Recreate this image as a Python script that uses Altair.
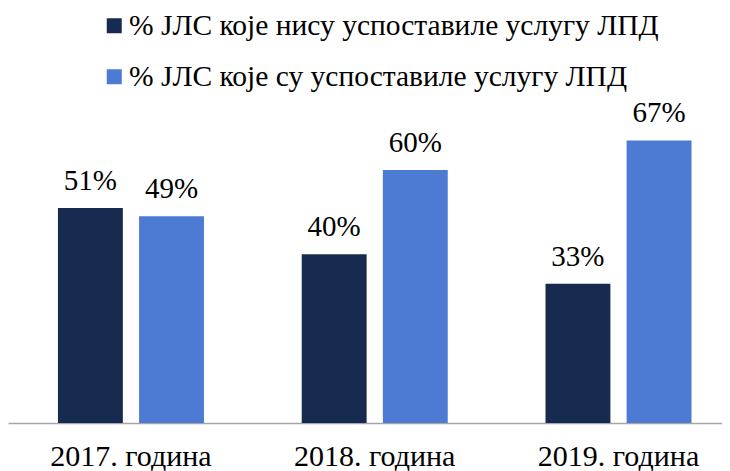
import altair as alt
import pandas as pd

years = ["2017. година", "2018. година", "2019. година"]
series = [
    "% ЈЛС које нису успоставиле услугу ЛПД",
    "% ЈЛС које су успоставиле услугу ЛПД",
]
not_established = [51, 40, 33]
established = [49, 60, 67]
colors = ["#172A50", "#4D7BD3"]

rows = []
for i, yr in enumerate(years):
    rows.append({"year": yr, "series": series[0], "value": not_established[i]})
    rows.append({"year": yr, "series": series[1], "value": established[i]})
df = pd.DataFrame(rows)

FONT = "Liberation Serif, Times New Roman, serif"

x = alt.X(
    "year:N",
    sort=years,
    title=None,
    scale=alt.Scale(paddingInner=0.401, paddingOuter=0.165, align=0.621),
    axis=alt.Axis(
        labelAngle=0,
        labelFontSize=30,
        labelFont=FONT,
        labelColor="black",
        ticks=False,
        tickSize=0,
        labelPadding=18,
        domainColor="#A6A6A6",
        domainWidth=1.5,
        grid=False,
    ),
)
xoff = alt.XOffset("series:N", sort=series, scale=alt.Scale(paddingInner=0.2, paddingOuter=0))
y = alt.Y("value:Q", scale=alt.Scale(domain=[0, 98.4], nice=False, zero=True), axis=None)

base = alt.Chart(df).encode(x=x, xOffset=xoff, y=y)

bars = base.mark_bar().encode(
    color=alt.Color(
        "series:N",
        sort=series,
        scale=alt.Scale(domain=series, range=colors),
        legend=alt.Legend(
            title=None,
            orient="none",
            legendX=91.5,
            legendY=3,
            direction="vertical",
            labelFont=FONT,
            labelFontSize=29.5,
            labelColor="black",
            labelLimit=1000,
            labelOffset=0,
            symbolType="square",
            symbolSize=225,
            symbolStrokeWidth=0,
            symbolOpacity=1,
            rowPadding=20,
            padding=0,
        ),
    )
)

labels = base.transform_calculate(label="datum.value + '%'").mark_text(
    baseline="alphabetic", dy=-18, fontSize=29, font=FONT, color="black"
).encode(text="label:N")

chart = (
    (bars + labels)
    .properties(width=714, height=415, padding=0)
    .configure_view(stroke=None)
)

chart.save("out.html", embed_options={"renderer": "svg", "actions": False})
